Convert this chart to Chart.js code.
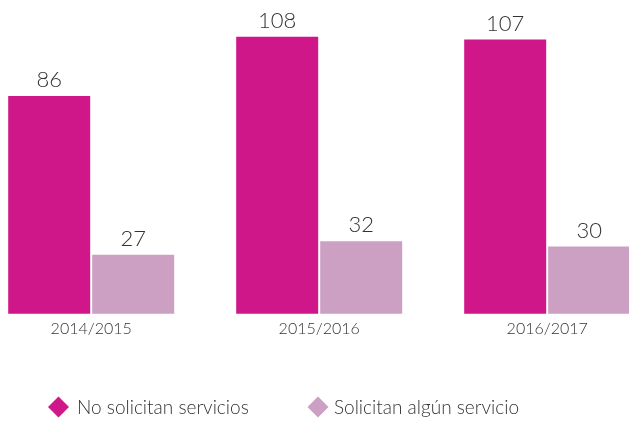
<!DOCTYPE html>
<html>
<head>
<meta charset="utf-8">
<script src="https://cdn.jsdelivr.net/npm/chart.js@4/dist/chart.umd.min.js"></script>
<style>
  html, body { margin: 0; padding: 0; background: #ffffff; }
  canvas { display: block; }
</style>
</head>
<body>
<canvas id="c" width="629" height="424"></canvas>
<script>
// Cursos escolares y número de alumnos por grupo
const cursos = ['2014/2015', '2015/2016', '2016/2017'];
const noSolicitan = [86, 108, 107];
const solicitan = [27, 32, 30];
const series = ['No solicitan servicios', 'Solicitan algún servicio'];
const colores = ['#D0178A', '#CBA0C2'];

const FONT = 'Lato, "Open Sans", sans-serif';
const TEXT = '#333333';

// Valor numérico encima de cada barra
const valueLabels = {
  id: 'valueLabels',
  afterDatasetsDraw(chart) {
    const ctx = chart.ctx;
    ctx.save();
    ctx.font = '300 22px ' + FONT;
    ctx.fillStyle = TEXT;
    ctx.textAlign = 'center';
    ctx.textBaseline = 'alphabetic';
    chart.data.datasets.forEach((ds, i) => {
      chart.getDatasetMeta(i).data.forEach((bar, j) => {
        ctx.fillText(String(ds.data[j].y), bar.x, bar.y - 9);
      });
    });
    ctx.restore();
  }
};

// Leyenda inferior con rombos
const diamondLegend = {
  id: 'diamondLegend',
  afterDraw(chart) {
    const ctx = chart.ctx;
    const slots = [{ cx: 58.5, tx: 77 }, { cx: 318, tx: 334 }];
    const cy = 407, r = 10.5, baseline = 414;
    ctx.save();
    ctx.font = '300 19px ' + FONT;
    ctx.textAlign = 'left';
    ctx.textBaseline = 'alphabetic';
    chart.data.datasets.forEach((ds, i) => {
      const { cx, tx } = slots[i];
      ctx.fillStyle = ds.backgroundColor;
      ctx.beginPath();
      ctx.moveTo(cx, cy - r);
      ctx.lineTo(cx + r, cy);
      ctx.lineTo(cx, cy + r);
      ctx.lineTo(cx - r, cy);
      ctx.closePath();
      ctx.fill();
      ctx.fillStyle = TEXT;
      ctx.fillText(ds.label, tx, baseline);
    });
    ctx.restore();
  }
};

const toPoints = arr => arr.map((v, i) => ({ x: i, y: v }));
const barOpts = { categoryPercentage: 168 / 228, barPercentage: 82 / 84, borderWidth: 0 };

new Chart(document.getElementById('c'), {
  type: 'bar',
  data: {
    datasets: [
      Object.assign({ label: series[0], data: toPoints(noSolicitan), backgroundColor: colores[0] }, barOpts),
      Object.assign({ label: series[1], data: toPoints(solicitan), backgroundColor: colores[1] }, barOpts)
    ]
  },
  options: {
    responsive: false,
    animation: false,
    layout: { padding: { top: 18, bottom: 81, left: 0, right: 0 } },
    plugins: {
      legend: { display: false },
      tooltip: { enabled: false }
    },
    scales: {
      x: {
        type: 'linear',
        min: -0.4,
        max: 2.3588,
        offset: false,
        afterBuildTicks: scale => { scale.ticks = cursos.map((_, i) => ({ value: i })); },
        grid: { display: false, drawTicks: false },
        border: { display: false },
        ticks: {
          padding: 5,
          autoSkip: false,
          maxRotation: 0,
          color: TEXT,
          font: { family: FONT, size: 16, weight: '300' },
          callback: v => cursos[v] ?? ''
        }
      },
      y: { display: false, min: 5, max: 115 }
    }
  },
  plugins: [valueLabels, diamondLegend]
});
</script>
</body>
</html>
